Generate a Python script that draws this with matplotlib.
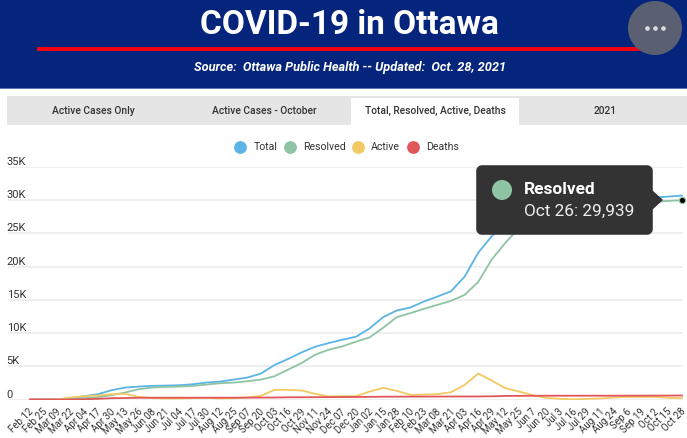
import matplotlib
matplotlib.use("Agg")
import matplotlib.pyplot as plt
from matplotlib.patches import Rectangle, FancyBboxPatch, Polygon, Ellipse
from matplotlib.transforms import ScaledTranslation

plt.rcParams['font.family'] = ['Roboto', 'DejaVu Sans']

dates = ["Feb 12", "Feb 25", "Mar 09", "Mar 22", "Apr 04", "Apr 17", "Apr 30", "May 13", "May 26", "Jun 08",
         "Jun 21", "Jul 04", "Jul 17", "Jul 30", "Aug 12", "Aug 25", "Sep 07", "Sep 20", "Oct 03", "Oct 16",
         "Oct 29", "Nov 11", "Nov 24", "Dec 07", "Dec 20", "Jan 02", "Jan 15", "Jan 28", "Feb 10", "Feb 23",
         "Mar 08", "Mar 21", "Apr 03", "Apr 16", "Apr 29", "May 12", "May 25", "Jun 7", "Jun 20", "Jul 3",
         "Jul 16", "Jul 29", "Aug 11", "Aug 24", "Sep 6", "Sep 19", "Oct 2", "Oct 15", "Oct 28"]

total = [0, 0, 10, 150, 500, 800, 1400, 1800, 1950, 2050,
         2100, 2150, 2300, 2550, 2700, 3000, 3300, 3900, 5200, 6100,
         7100, 7950, 8500, 9000, 9450, 10700, 12400, 13400, 13850, 14750,
         15500, 16300, 18500, 22100, 24600, 26500, 27800, 28600, 29100, 29400,
         29600, 29700, 29800, 29950, 30100, 30250, 30400, 30550, 30700]
resolved = [0, 0, 0, 50, 200, 350, 650, 1050, 1550, 1800,
            1900, 1950, 2050, 2250, 2450, 2550, 2750, 3000, 3500, 4500,
            5500, 6750, 7500, 8000, 8700, 9350, 10800, 12400, 13000, 13650,
            14250, 14850, 15750, 17700, 21100, 23600, 25800, 27000, 28000, 28600,
            29000, 29200, 29300, 29400, 29500, 29600, 29750, 29900, 30000]
active = [0, 0, 10, 300, 500, 600, 800, 850, 400, 200,
          150, 150, 200, 250, 150, 200, 300, 550, 1450, 1450,
          1350, 850, 450, 500, 500, 1200, 1750, 1300, 700, 750,
          800, 1100, 2200, 3900, 2850, 1700, 1200, 650, 250, 100,
          20, 100, 150, 300, 400, 400, 400, 250, 200]
deaths = [0, 0, 0, 0, 30, 100, 200, 220, 260, 270,
          270, 270, 270, 270, 270, 270, 280, 290, 300, 330,
          340, 350, 360, 370, 380, 400, 420, 430, 430, 440,
          440, 450, 450, 460, 480, 540, 550, 560, 570, 570,
          570, 570, 570, 570, 580, 580, 590, 590, 600]

series_names = ["Total", "Resolved", "Active", "Deaths"]
series_colors = ["#5ab4e6", "#8ec4a4", "#f2c962", "#e15759"]
y_ticks = [0, 5000, 10000, 15000, 20000, 25000, 30000, 35000]
y_labels = ["0", "5K", "10K", "15K", "20K", "25K", "30K", "35K"]
tabs = ["Active Cases Only", "Active Cases - October", "Total, Resolved, Active, Deaths", "2021"]

W, H = 687, 438
fig = plt.figure(figsize=(W / 100, H / 100), dpi=100, facecolor="white")

# page furniture, in pixel coords
bg = fig.add_axes([0, 0, 1, 1], zorder=0)
bg.set_xlim(0, W)
bg.set_ylim(H, 0)
bg.axis("off")
bg.add_patch(Rectangle((0, 0), W, 88, color="#05257c", lw=0))
bg.add_patch(Rectangle((0, 88), W, 1.2, color="#5f78b0", lw=0))
bg.add_patch(Rectangle((37, 47), 613, 4, color="#f00010", lw=0))
bg.text(349.5, 25, "COVID-19 in Ottawa", color="white", fontsize=24, fontweight="bold", ha="center", va="center")
bg.text(350, 68, "Source:  Ottawa Public Health -- Updated:  Oct. 28, 2021", color="white", fontsize=9.2,
        fontweight="bold", fontstyle="italic", ha="center", va="center")

bg.add_patch(Rectangle((7, 96), W - 7, 29, color="#e5e5e5", lw=0))
bg.add_patch(Rectangle((351, 98), 168, 28, color="white", lw=0))
for label, cx in zip(tabs, [93, 264, 435, 605]):
    bg.text(cx, 110.5, label, color="#333333", fontsize=7.4, fontweight="medium", ha="center", va="center")

for name, color, cx, tx in zip(series_names, series_colors, [240, 289.5, 358, 412.5], [254, 303, 371, 426]):
    bg.scatter([cx], [146.5], s=85, color=color, lw=0)
    bg.text(tx, 146.5, name, color="#333333", fontsize=7.6, ha="left", va="center")

# the chart itself
ax = fig.add_axes([8 / W, 1 - 399.5 / H, 675 / W, 232.5 / H], zorder=1)
ax.patch.set_alpha(0)
x = list(range(len(dates)))
for values, color in zip([total, resolved, active, deaths], series_colors):
    ax.plot(x, values, color=color, lw=1.3, solid_joinstyle="round")
ax.set_xlim(-22 / 13.58, 48 + 1 / 13.58)
ax.set_ylim(0, 35000)
for s in ax.spines.values():
    s.set_visible(False)
ax.set_yticks(y_ticks)
ax.set_yticklabels([])
ax.tick_params(axis="y", length=0)
ax.grid(axis="y", color="#eeeeee", lw=1.3)
ax.set_axisbelow(True)
ax.set_xticks(x)
ax.set_xticklabels(dates, rotation=45, ha="right", rotation_mode="anchor", fontsize=7, color="#333333")
ax.tick_params(axis="x", length=0, pad=3)
# labels sit a bit lower than the default pad gives
shift = ScaledTranslation(-1.5 / 100, -3 / 100, fig.dpi_scale_trans)
for lab in ax.get_xticklabels():
    lab.set_transform(lab.get_transform() + shift)
for v, label in zip(y_ticks, y_labels):
    ax.annotate(label, (0, v), xycoords=("axes fraction", "data"), xytext=(-1, 0), textcoords="offset points",
                fontsize=8, color="#333333", ha="left", va="bottom")
ax.plot([x[-1]], [30000], "o", color="black", ms=4.5, mec="#8ec4a4", mew=0.8, clip_on=False, zorder=5)

# tooltip + menu button on top
top = fig.add_axes([0, 0, 1, 1], zorder=2)
top.set_xlim(0, W)
top.set_ylim(H, 0)
top.axis("off")
top.patch.set_alpha(0)
top.add_patch(FancyBboxPatch((479, 168), 171, 64, boxstyle="round,pad=0,rounding_size=3", color="#333333", lw=4,
                             joinstyle="round"))
top.add_patch(Polygon([(652, 190), (663, 200), (652, 210)], color="#333333", lw=0))
top.add_patch(Ellipse((502, 190), 20, 20, color="#8ec4a4", lw=0))
top.text(524, 190, "Resolved", color="white", fontsize=12.4, fontweight="bold", ha="left", va="center")
top.text(524, 211, "Oct 26: 29,939", color="#eeeeee", fontsize=12.4, ha="left", va="center")
top.add_patch(Ellipse((655, 28), 54, 54, color="#5a5f72", lw=0))
top.scatter([647, 655, 663], [28, 28, 28], s=11, color="#dddddd", lw=0)

fig.savefig("out.png", dpi=100)
